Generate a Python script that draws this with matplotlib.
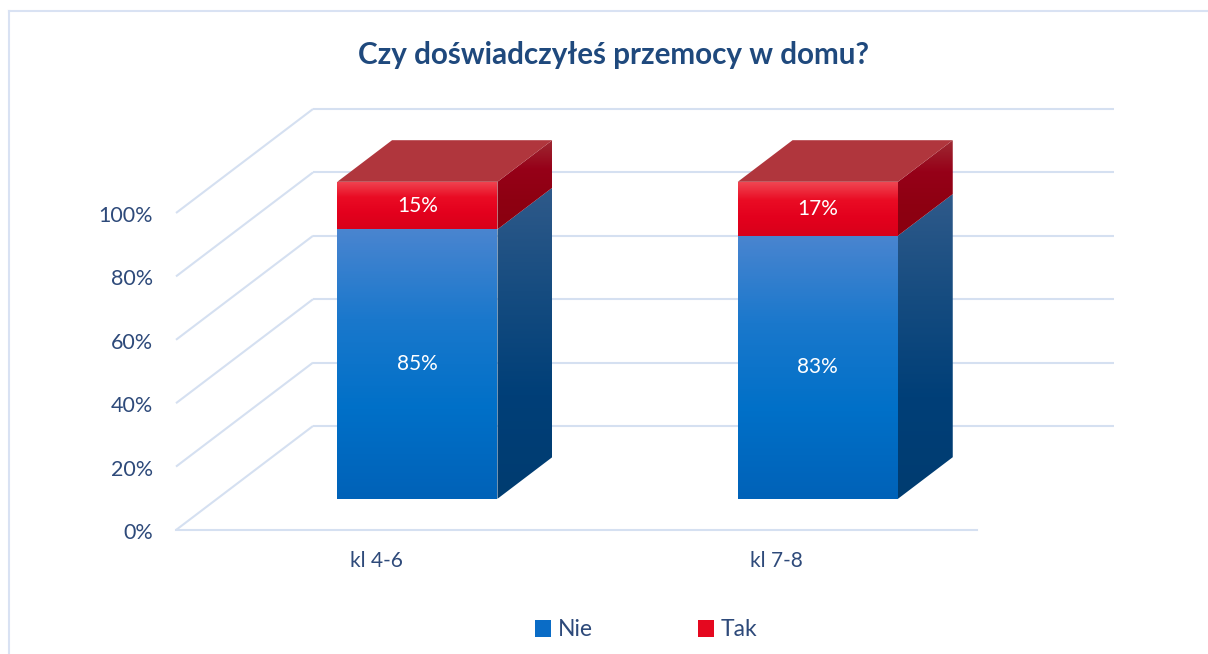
import matplotlib
matplotlib.use("Agg")
import matplotlib.pyplot as plt
import numpy as np
from matplotlib.patches import Polygon, Patch
from matplotlib.lines import Line2D
from matplotlib.colors import LinearSegmentedColormap

# data
categories = ["kl 4-6", "kl 7-8"]
series = ["Nie", "Tak"]
nie = [0.85, 0.83]
tak = [0.15, 0.17]
y_ticks = [0, 0.2, 0.4, 0.6, 0.8, 1.0]
y_tick_labels = ["0%", "20%", "40%", "60%", "80%", "100%"]
title = "Czy doświadczyłeś przemocy w domu?"

# layout (pixels of a 1208x654 picture)
W, H = 1208, 654
X0, UX = 176, 400.5      # floor front-left corner, px per category
Y0, UY = 530, 317        # floor front line, px per 100%
DX, DY = 137 / UX, 104 / UY  # depth offset of the back wall in data units
BAR_W = 0.4
D_FRONT, D_BACK = 0.3, 0.7

TXT = "#2E4A7A"
GRID = "#D5E0F1"
FONT = "Lato"

blue_front = ["#4A85D0", "#1A78CC", "#0070C8", "#0062B8"]
blue_side = ["#2F5A8A", "#164C80", "#003F78", "#003C70"]
red_front = ["#F04652", "#EA0C24", "#E3001D", "#D8001A"]
red_side = ["#9E2A33", "#960018", "#8E0012", "#8A0010"]
red_top = "#B0363D"

fig = plt.figure(figsize=(W / 100, H / 100), dpi=100)
ax = fig.add_axes([0, 0, 1, 1])
ax.set_xlim(-X0 / UX, (W - X0) / UX)
ax.set_ylim((Y0 - H) / UY, Y0 / UY)
ax.axis("off")


def P(x, y, d):
    return (x + d * DX, y + d * DY)


def grad_poly(verts, colors, z):
    poly = Polygon(verts, closed=True, facecolor="none", edgecolor="none", zorder=z)
    ax.add_patch(poly)
    xs = [v[0] for v in verts]
    ys = [v[1] for v in verts]
    cmap = LinearSegmentedColormap.from_list("g", colors[::-1])
    arr = np.linspace(0, 1, 256).reshape(-1, 1)
    im = ax.imshow(arr, cmap=cmap, extent=(min(xs), max(xs), min(ys), max(ys)),
                   origin="lower", aspect="auto", interpolation="bilinear", zorder=z)
    im.set_clip_path(poly)


# gridlines: diagonals on the left wall and lines on the back wall
n_cat = len(categories)
for v in y_ticks:
    (xa, ya), (xb, yb) = P(0, v, 0), P(0, v, 1)
    ax.plot([xa, xb], [ya, yb], color=GRID, lw=1.5, zorder=1, solid_capstyle="butt")
    (xc, yc) = P(n_cat, v, 1)
    ax.plot([xb, xc], [yb, yc], color=GRID, lw=1.5, zorder=1, solid_capstyle="butt")
ax.plot([0, n_cat], [0, 0], color=GRID, lw=1.5, zorder=1)

# tick labels
for v, lab in zip(y_ticks, y_tick_labels):
    ax.text(-23 / UX, v - 3 / UY, lab, ha="right", va="center", fontsize=15.5,
            color=TXT, family=FONT)

# bars
for i in range(n_cat):
    c = i + 0.5
    xl, xr = c - BAR_W / 2, c + BAR_W / 2
    segs = [(0, nie[i], blue_front, blue_side), (nie[i], nie[i] + tak[i], red_front, red_side)]
    for k, (y0, y1, cf, cs) in enumerate(segs):
        z = 3 + k
        front = [P(xl, y0, D_FRONT), P(xr, y0, D_FRONT), P(xr, y1, D_FRONT), P(xl, y1, D_FRONT)]
        side = [P(xr, y0, D_FRONT), P(xr, y0, D_BACK), P(xr, y1, D_BACK), P(xr, y1, D_FRONT)]
        grad_poly(front, cf, z)
        grad_poly(side, cs, z)
        fx, fy = P(c, (y0 + y1) / 2, D_FRONT)
        ax.text(fx, fy, f"{round((y1 - y0) * 100)}%", ha="center", va="center",
                fontsize=15, color="white", family=FONT, zorder=10)
    ytop = nie[i] + tak[i]
    top = [P(xl, ytop, D_FRONT), P(xr, ytop, D_FRONT), P(xr, ytop, D_BACK), P(xl, ytop, D_BACK)]
    ax.add_patch(Polygon(top, closed=True, facecolor=red_top, edgecolor="none", zorder=6))

# category labels
for i, lab in enumerate(categories):
    ax.text(i + 0.5, -31 / UY, lab, ha="center", va="center", fontsize=15,
            color=TXT, family=FONT)

# title
fig.text(613 / W, 1 - 55 / H, title, ha="center", va="center", fontsize=21.3,
         fontweight="bold", color="#1F497D", family=FONT)

# legend
handles = [Patch(facecolor="#0A6CC6", edgecolor="none"), Patch(facecolor="#E5081F", edgecolor="none")]
leg = fig.legend(handles, series, loc="center", bbox_to_anchor=(646 / W, 1 - 630 / H),
                 ncol=2, frameon=False, handlelength=0.7, handleheight=0.7,
                 handletextpad=0.3, columnspacing=4.6, prop={"family": FONT, "size": 16.5})
for t in leg.get_texts():
    t.set_color(TXT)

# chart area border (top and left edges visible)
fig.add_artist(Line2D([9 / W, 1], [1 - 11 / H, 1 - 11 / H], color="#D9E2F3", lw=1.5))
fig.add_artist(Line2D([9 / W, 9 / W], [1 - 11 / H, 0], color="#D9E2F3", lw=1.5))

fig.savefig("out.png", dpi=100)
